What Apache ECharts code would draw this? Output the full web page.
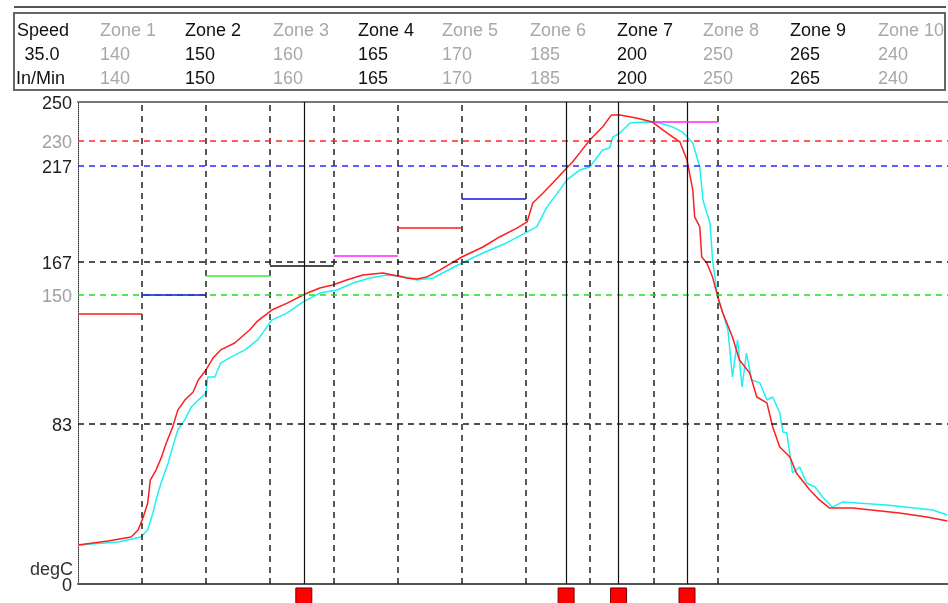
<!DOCTYPE html>
<html>
<head>
<meta charset="utf-8">
<script src="https://cdn.jsdelivr.net/npm/echarts@6/dist/echarts.min.js"></script>
<style>
  html, body { margin: 0; padding: 0; background: #fff; }
  #chart { width: 948px; height: 603px; }
</style>
</head>
<body>
<div id="chart"></div>
<script>
// zone header
const zoneNames = ['Zone 1', 'Zone 2', 'Zone 3', 'Zone 4', 'Zone 5', 'Zone 6', 'Zone 7', 'Zone 8', 'Zone 9', 'Zone 10']
const zoneTemps = [140, 150, 160, 165, 170, 185, 200, 250, 265, 240]
const zoneDim = [true, false, true, false, true, true, false, true, false, true]
const speed = '35.0'
const speedUnit = 'In/Min'

// x in zone lengths (10 = one zone)
const zoneBounds = [10, 20, 30, 40, 50, 60, 70, 80, 90, 100]
const probeX = [35.3, 76.3, 84.5, 95.2]

// y ticks and reference lines
const yTicks = [0, 83, 150, 167, 217, 230, 250]
const yDimTicks = [150, 230]
const refValues = [230, 217, 167, 150, 83]
const refColors = ['#ff2a2a', '#2a2aff', '#1a1a1a', '#22dd22', '#1a1a1a']

// thermocouple traces
const redX = [0, 4.7, 8.3, 9.4, 10.2, 10.9, 11.3, 12.2, 13.0, 13.8, 14.8, 15.6, 16.7, 18.0, 18.8, 20.0, 21.1, 22.3, 24.5, 26.9, 28.1, 30.3, 32.7, 35.5, 37.8, 39.8, 42.0, 44.5, 47.7, 49.2, 51.4, 53.0, 54.5, 56.6, 60.0, 63.3, 65.9, 68.6, 70.2, 71.1, 72.7, 74.2, 76.4, 77.3, 78.4, 80.0, 82.0, 83.4, 84.7, 87.3, 89.8, 91.4, 93.0, 94.1, 95.2, 96.1, 96.4, 97.2, 97.5, 98.3, 99.2, 100.0, 100.8, 102.3, 103.4, 105.0, 106.1, 107.7, 108.6, 109.7, 111.3, 112.3, 114.4, 115.9, 117.5, 121.1, 128.4, 132.7, 135.9]
const redT = [20.2, 22.3, 24.4, 28.0, 34.8, 42.0, 53.9, 59.1, 65.4, 73.1, 81.4, 90.2, 95.4, 99.6, 105.8, 111.0, 117.2, 121.4, 125.0, 132.0, 136.5, 142.1, 145.7, 150.4, 153.5, 155.1, 157.7, 160.3, 161.3, 160.3, 158.7, 158.2, 159.2, 162.9, 169.6, 174.8, 180.0, 184.6, 187.8, 197.6, 202.8, 208.0, 215.8, 218.9, 223.5, 230.3, 237.0, 243.3, 243.3, 241.7, 239.6, 235.5, 231.8, 229.3, 219.9, 204.4, 190.4, 185.2, 169.6, 166.5, 159.2, 148.9, 140.6, 128.1, 116.2, 109.4, 97.0, 93.9, 81.4, 71.1, 65.9, 57.6, 48.8, 43.6, 39.4, 39.4, 36.8, 34.8, 32.7]
const cyanX = [0, 6.3, 9.8, 10.9, 11.7, 12.5, 13.3, 14.1, 14.8, 15.6, 16.7, 17.7, 18.8, 20.0, 20.3, 21.4, 22.3, 23.9, 26.1, 28.1, 30.3, 32.7, 35.2, 37.8, 40.5, 43.0, 45.6, 48.3, 50.3, 53.0, 55.5, 57.0, 60.0, 63.3, 67.0, 70.2, 71.7, 73.3, 75.3, 76.4, 78.4, 80.0, 82.0, 83.1, 83.6, 84.7, 86.3, 88.9, 90.9, 93.0, 94.5, 96.1, 97.2, 97.7, 98.3, 98.8, 99.2, 100.0, 100.8, 101.6, 102.3, 103.1, 103.8, 104.5, 105.3, 106.6, 107.7, 108.6, 109.7, 110.2, 110.8, 111.7, 112.8, 113.9, 115.2, 116.4, 117.9, 119.5, 126.4, 133.6, 135.9]
const cyanT = [20.2, 21.8, 24.4, 28.0, 36.8, 47.2, 55.5, 62.8, 71.1, 79.9, 85.1, 91.8, 95.4, 99.1, 107.4, 107.4, 114.6, 117.7, 121.4, 126.6, 136.9, 140.6, 146.3, 150.9, 152.5, 156.1, 158.7, 160.3, 159.8, 157.7, 158.7, 161.3, 166.5, 171.7, 176.9, 182.6, 185.2, 195.5, 204.4, 209.5, 214.7, 216.3, 225.1, 226.1, 231.8, 233.9, 239.1, 239.6, 239.1, 237.0, 234.4, 228.7, 216.3, 199.2, 192.4, 187.2, 168.0, 148.9, 140.6, 131.7, 107.4, 126.6, 102.2, 119.8, 105.8, 104.3, 95.4, 97.0, 88.7, 78.8, 78.3, 57.6, 60.7, 52.4, 50.3, 45.1, 39.9, 42.5, 41.0, 38.4, 35.8]

const FONT = '"Liberation Sans", Arial, sans-serif'
const setColors = ['#ff1a1a', '#1010ee', '#33ee33', '#111111', '#ff22ff']

const chart = echarts.init(document.getElementById('chart'), null, { renderer: 'canvas' })

const zip = (xs, ys) => xs.map((x, i) => [x, ys[i]])

// header texts
const header = []
const colX = [100, 185, 273, 358, 442, 530, 617, 703, 790, 878]
const rowY = [31, 55, 79]
const txt = (text, x, y, color, align) => ({
  type: 'text', x: x, y: y, silent: true,
  style: { text: text, fill: color, font: '18px ' + FONT, align: align || 'left', verticalAlign: 'middle' }
})
header.push(txt('Speed', 17, rowY[0], '#111'))
header.push(txt(speed, 42, rowY[1], '#111', 'center'))
header.push(txt(speedUnit, 16, rowY[2], '#111'))
zoneNames.forEach((name, i) => {
  const c = zoneDim[i] ? '#a8a8a8' : '#111'
  header.push(txt(name, colX[i], rowY[0], c))
  header.push(txt(String(zoneTemps[i]), colX[i], rowY[1], c))
  header.push(txt(String(zoneTemps[i]), colX[i], rowY[2], c))
})
header.push({ type: 'line', shape: { x1: 14, y1: 7, x2: 946, y2: 7 }, style: { stroke: '#555', lineWidth: 2 } })
header.push({ type: 'rect', shape: { x: 14, y: 13, width: 931, height: 77 }, style: { fill: 'none', stroke: '#666', lineWidth: 2 } })
header.push(txt('degC', 73, 570, '#333', 'right'))

// zone set-point segments (only those inside the plot)
const setSegs = []
zoneTemps.forEach((t, i) => {
  if (t >= 250) return
  const x0 = i === 0 ? 0 : zoneBounds[i - 1]
  setSegs.push([
    { coord: [x0, t], lineStyle: { color: setColors[i % 5], type: 'solid', width: 1.5 } },
    { coord: [zoneBounds[i], t] }
  ])
})

const option = {
  animation: false,
  grid: { left: 78, right: 0, top: 102, bottom: 19 },
  graphic: header,
  xAxis: [
    {
      type: 'value', min: 0, max: 136, position: 'bottom',
      axisLine: { lineStyle: { color: '#555', width: 2 } },
      axisTick: { show: false }, axisLabel: { show: false }, splitLine: { show: false }
    },
    {
      type: 'value', min: 0, max: 136, position: 'top',
      axisLine: { lineStyle: { color: '#777', width: 2 } },
      axisTick: { show: false }, axisLabel: { show: false }, splitLine: { show: false }
    }
  ],
  yAxis: {
    type: 'value', min: 0, max: 250,
    axisLine: { show: true, lineStyle: { color: '#333', type: 'dotted', width: 1 } },
    axisTick: { show: false },
    splitLine: { show: false },
    axisLabel: {
      customValues: yTicks,
      margin: 6,
      padding: [5, 0, 0, 0],
      formatter: v => (yDimTicks.includes(v) ? '{g|' + v + '}' : '{k|' + v + '}'),
      rich: {
        g: { color: '#a0a0a0', fontSize: 18, fontFamily: FONT },
        k: { color: '#222', fontSize: 18, fontFamily: FONT }
      }
    }
  },
  series: [
    {
      name: 'grid',
      type: 'line',
      data: [],
      markLine: {
        silent: true, symbol: 'none', label: { show: false },
        data: [
          ...zoneBounds.map(x => ({ xAxis: x, lineStyle: { color: '#222', type: [6, 5], width: 1.5 } })),
          ...refValues.map((v, i) => ({ yAxis: v, lineStyle: { color: refColors[i], type: [6, 5], width: 1.5 } })),
          ...probeX.map(x => ({ xAxis: x, lineStyle: { color: '#111', type: 'solid', width: 1.2 } })),
          ...setSegs
        ]
      }
    },
    {
      name: 'TC2',
      type: 'line',
      data: zip(cyanX, cyanT),
      showSymbol: false,
      lineStyle: { color: '#1ff0f0', width: 1.5 },
      z: 3
    },
    {
      name: 'TC1',
      type: 'line',
      data: zip(redX, redT),
      showSymbol: false,
      lineStyle: { color: '#ff1e1e', width: 1.5 },
      z: 4
    },
    {
      name: 'probes',
      type: 'scatter',
      data: probeX.map(x => [x, -6.2]),
      symbol: 'rect',
      symbolSize: 16,
      clip: false,
      itemStyle: { color: '#ff0000', borderColor: '#700', borderWidth: 1, opacity: 1 },
      z: 5
    }
  ]
}

chart.setOption(option)
window.addEventListener('resize', () => chart.resize())
</script>
</body>
</html>
